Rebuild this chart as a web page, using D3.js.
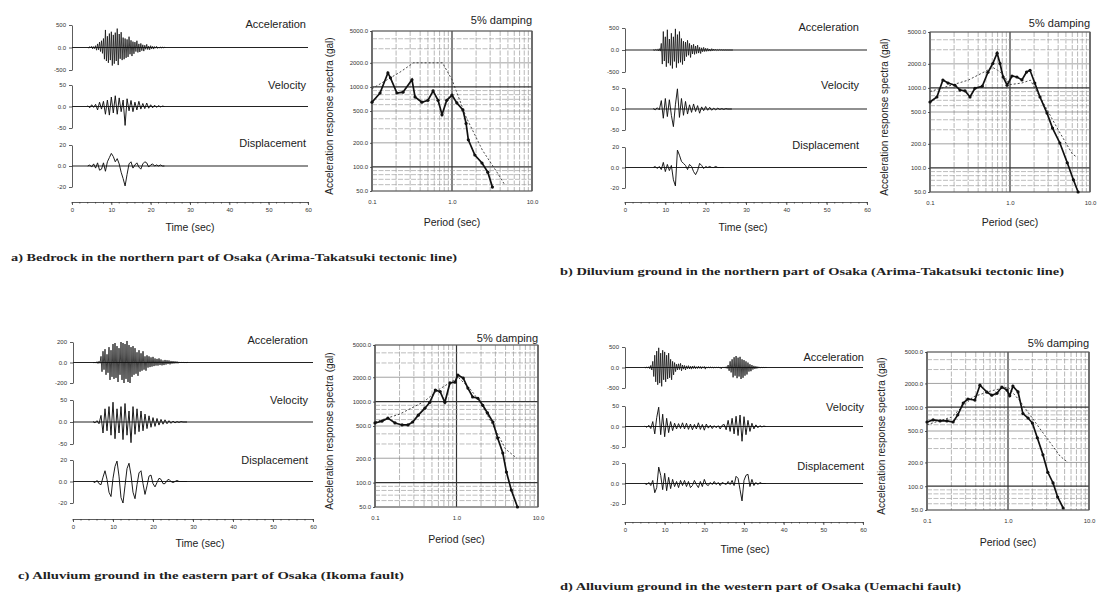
<!DOCTYPE html>
<html>
<head>
<meta charset="utf-8">
<title>Simulated ground motions in Osaka</title>
<script src="https://cdn.jsdelivr.net/npm/d3@7"></script>
<style>
  body {margin: 0; background: #fff;}
  svg {font-family: "Liberation Sans", Arial, sans-serif;}
  .ax path, .ax line {stroke: #333; stroke-width: 0.8;}
  .ax text {fill: #333;}
  .cap {font-family: "Liberation Serif", "Times New Roman", serif; font-weight: bold; fill: #222;}
</style>
</head>
<body>
<svg id="fig" width="1099" height="603"></svg>
<script>
// ---------- data ----------
var timeTicks = [0, 10, 20, 30, 40, 50, 60];
var periodTicks = [0.1, 1.0, 10.0];
var spectraTicks = [50, 100, 200, 500, 1000, 2000, 5000];
var traceNames = ["Acceleration", "Velocity", "Displacement"];

// top tick of the acc / vel / disp axes, per panel
var accTicks = [500, 500, 200, 500];
var velTicks = [50, 50, 50, 50];
var dispTicks = [20, 20, 20, 20];

// time of first sample (sec) per panel; acc sampled every 0.25 s, vel/disp every 0.5 s
var traceStart = [4, 7, 5, 5];
var accDt = 0.25, velDt = 0.5, dispDt = 0.5;

var captions = [
  "a)   Bedrock in the northern part of Osaka (Arima-Takatsuki tectonic line)",
  "b)   Diluvium ground in the northern part of Osaka (Arima-Takatsuki tectonic line)",
  "c)   Alluvium ground in the eastern part of Osaka (Ikoma fault)",
  "d)   Alluvium ground in the western part of Osaka (Uemachi fault)"
];

// a) bedrock
var accA = [10,-15,20,-10,25,-30,20,-25, 40,-60,80,-50,120,-90,150,-130,
  200,-260,390,-300,250,-340,310,-280, 350,-400,280,-360,330,-300,420,-390,
  300,-250,340,-280,220,-260,200,-230, 180,-210,240,-150,160,-190,130,-140,
  120,-90,150,-110,80,-100,90,-70, 60,-80,50,-40,70,-45,30,-50,
  40,-30,25,-35,20,-15,25,-20, 10,-15,12,-8,6,-5,3,0];
var velA = [2,-3,4,-2, 5,-8,10,-6, 12,-18,15,-20, 22,-15,25,-18, 20,-12,15,-44,
  18,-10,14,-12, 10,-8,12,-6, 7,-5,8,-4, 4,-3,3,-2, 2,-1,1,0];
var dispA = [0,1,-1,2, -2,3,-4,-3, 3,-5,4,8, 12,9,4,7, 2,-6,-12,-19,
  -8,2,4,-2, 1,3,-1,-3, 2,4,3,-1, 1,2,0,1, 0,1,0,0];

// b) diluvium, north
var accB = [5,-8,10,-6,15,-20,30,-25, 150,-320,420,-250,300,-380,460,-300,
  250,-350,380,-420,300,-260,480,-400, 350,-300,420,-280,260,-330,200,-250,
  180,-150,220,-120,150,-170,110,-90, 130,-100,90,-80,110,-70,60,-80,
  50,-40,60,-35,40,-30,35,-25, 20,-25,30,-15,20,-10,15,-12,
  10,-8,12,-5,8,-6,5,-4, 4,-3,2,-2,1,-1,0,0];
var velB = [1,-2,3,-2, 20,-22,25,-18, 22,-15,-42,10, 48,-20,25,-15, 18,-12,10,-8,
  12,-6,8,-10, 5,-4,6,-3, 4,-3,2,-2, 2,-1,1,-1, 1,0,0,0];
var dispB = [0,1,-1,1, -2,5,-4,3, -3,2,-12,-18, 17,12,6,4, 2,-2,3,1,
  -4,-7,-3,4, 2,-1,1,0, 1,0,0,1, 0,0,0,0];

// c) alluvium, east
var accC = [3,-5,4,-6,8,-10,12,-8, 60,-90,110,-70,130,-120,80,-100,
  150,-170,120,-140,180,-160,190,-150, 160,-190,140,-120,200,-170,190,-200,
  180,-160,210,-190,170,-200,150,-140, 160,-120,140,-110,100,-130,120,-90,
  90,-80,110,-70,60,-80,70,-50, 60,-45,50,-40,55,-35,40,-30,
  35,-30,40,-25,30,-28,20,-25, 25,-20,22,-15,20,-18,15,-12,
  14,-10,12,-8,10,-8,6,-5, 5,-4,4,-3,2,-2,1,0];
var velC = [1,-2,3,-4, 15,-25,30,-20, 35,-30,45,-38, 30,-25,35,-40, 42,-30,25,-47,
  35,-28,30,-22, 25,-20,18,-15, 14,-12,10,-10, 8,-7,6,-5, 5,-4,3,-3,
  2,-2,1,-1, 1,0,0,0];
var dispC = [0,-1,1,-2, -3,4,10,2, -10,-14,3,14, 19,5,-15,-20, -4,12,17,6,
  -10,-16,-3,8, 10,-2,-12,-4, 5,6,-2,-5, -1,3,2,-2, -2,1,2,0,
  -1,0,1,0, 0,0,0,0];

// d) alluvium, west
var accD = [5,-8,10,-12,20,-30,50,-60, 150,-220,300,-350,400,-420,480,-380,
  350,-460,420,-300,380,-350,300,-280, 350,-250,200,-300,150,-180,120,-100,
  80,-60,90,-50,100,-80,60,-40, 50,-60,40,-30,45,-35,30,-40,
  35,-25,40,-30,20,-25,30,-20, 25,-30,20,-15,25,-40,15,-10,
  10,-8,12,-6,8,-10,5,-5, 6,-4,8,-5,4,-30,5,-3,
  10,-15,20,-25,60,-80,150,-120, 200,-240,250,-200,280,-260,240,-220,
  260,-280,200,-250,180,-200,150,-170, 120,-100,80,-90,60,-50,40,-35,
  30,-25,20,-15,12,-10,6,-5, 4,-3,2,0];
var velD = [1,-2,3,-5, 12,-18,22,47, -20,30,-25,20, -15,12,-10,8, -6,7,-5,9,
  -6,8,-7,6, -8,5,-6,9, -7,5,-9,6, -4,3,-5,2, -3,2,-6,3,
  5,-8,15,-12, 20,-18,25,-22, 28,-36,24,-20, 15,-12,8,-6, 4,-3,2,-1, 1,0];
var dispD = [0,-1,1,-2, 3,-9,-4,16, 8,-6,10,-7, 6,-5,4,-3, 2,-4,3,-2,
  3,-3,2,-4, -2,3,-1,-4, 2,-3,4,-1, -2,1,-1,2, -1,1,-2,1,
  0,-1,2,-1, 3,-2,7,5, -6,-17,3,8, 9,-3,4,-2, 1,-1,1,0, 0,0];

// acceleration response spectra [period (sec), Sa (gal)]
var specA = [[0.1,644],[0.126,840],[0.158,1494],[0.17,1300],[0.205,840],[0.244,860],
  [0.316,1230],[0.345,750],[0.42,644],[0.5,680],[0.58,890],[0.67,680],[0.75,450],
  [0.86,680],[1.0,790],[1.15,630],[1.37,515],[1.5,350],[1.6,218],[1.93,141],
  [2.37,112],[2.8,86],[3.2,56]];
var designA = [[0.1,950],[0.224,1530],[0.33,2000],[0.76,2000],[1.0,1230],[1.5,420],
  [2.4,162],[3.7,84],[4.6,59]];

var specB = [[0.1,667],[0.122,770],[0.145,1256],[0.168,1150],[0.205,1080],[0.237,940],
  [0.274,920],[0.316,770],[0.365,990],[0.45,1050],[0.53,1570],[0.61,2020],[0.69,2720],
  [0.75,2020],[0.82,1370],[0.92,1080],[1.06,1410],[1.22,1370],[1.41,1260],[1.61,1580],
  [1.78,1660],[2.04,1150],[2.37,770],[2.9,485],[3.4,315],[4.2,205],[5.2,116],
  [6.2,71],[7.1,50]];
var designB = [[0.1,900],[0.3,1250],[0.61,1800],[0.75,1600],[1.0,1100],[1.4,1150],
  [1.8,1250],[2.5,700],[4.0,300],[6.0,150],[6.8,137]];

var specC = [[0.1,545],[0.122,575],[0.144,625],[0.176,545],[0.215,515],[0.254,515],
  [0.29,560],[0.34,680],[0.41,830],[0.47,980],[0.55,1390],[0.63,1330],[0.72,980],
  [0.83,1700],[0.96,1740],[1.04,2130],[1.21,1950],[1.38,1470],[1.58,1140],[1.83,1100],
  [2.1,900],[2.4,725],[2.8,560],[3.2,355],[3.7,232],[4.1,135],[4.7,81],[5.6,50]];
var designC = [[0.1,560],[0.2,700],[0.4,1000],[0.6,1400],[0.9,1800],[1.05,2000],
  [1.5,1400],[2.0,950],[3.0,450],[4.0,260],[5.5,200]];

var specD = [[0.1,650],[0.119,690],[0.145,670],[0.176,670],[0.21,650],[0.24,800],
  [0.28,1130],[0.32,1270],[0.39,1230],[0.45,1900],[0.55,1550],[0.63,1420],[0.73,1500],
  [0.84,1800],[0.97,1650],[1.05,1400],[1.15,1850],[1.33,1560],[1.53,830],[1.77,730],
  [2.0,630],[2.3,410],[2.7,250],[3.1,150],[3.6,110],[4.1,73],[4.8,53]];
var designD = [[0.1,600],[0.2,750],[0.37,1350],[0.6,1600],[1.0,1800],[1.4,1200],
  [2.4,560],[4.4,240],[5.5,200]];

// ---------- layout ----------
var layout = [
  {th: {x0: 72, x1: 308, axisY: 202, labelX: 306, timeX: 190, timeY: 231,
        rows: [{zero: 47, top: 25, bot: 70, ly: 28}, {zero: 107, top: 85, bot: 128, ly: 89}, {zero: 165, top: 145, bot: 187, ly: 147}]},
   sp: {x0: 372, x1: 532, y0: 31, y1: 191, yLabelX: 333, dampY: 24, periodY: 226},
   cap: {x: 11, w: 446, y: 261}},
  {th: {x0: 625, x1: 867, axisY: 202, labelX: 859, timeX: 743, timeY: 231,
        rows: [{zero: 50, top: 28, bot: 72, ly: 31}, {zero: 108, top: 88, bot: 130, ly: 89}, {zero: 167, top: 147, bot: 188, ly: 149}]},
   sp: {x0: 930, x1: 1090, y0: 32, y1: 192, yLabelX: 888, dampY: 27, periodY: 226},
   cap: {x: 560, w: 504, y: 275}},
  {th: {x0: 73, x1: 313, axisY: 519, labelX: 308, timeX: 200, timeY: 547,
        rows: [{zero: 362, top: 342, bot: 383, ly: 344}, {zero: 423, top: 400, bot: 444, ly: 404}, {zero: 482, top: 460, bot: 503, ly: 464}]},
   sp: {x0: 375, x1: 538, y0: 345, y1: 507, yLabelX: 333, dampY: 342, periodY: 543},
   cap: {x: 18, w: 386, y: 579}},
  {th: {x0: 625, x1: 863, axisY: 522, labelX: 864, timeX: 745, timeY: 553,
        rows: [{zero: 368, top: 347, bot: 388, ly: 361}, {zero: 427, top: 406, bot: 447, ly: 411}, {zero: 485, top: 463, bot: 504, ly: 470}]},
   sp: {x0: 927, x1: 1089, y0: 352, y1: 510, yLabelX: 885, dampY: 347, periodY: 546},
   cap: {x: 560, w: 401, y: 590}}
];

var panelData = [
  {traces: [accA, velA, dispA], ticks: [accTicks[0], velTicks[0], dispTicks[0]], spec: specA, design: designA},
  {traces: [accB, velB, dispB], ticks: [accTicks[1], velTicks[1], dispTicks[1]], spec: specB, design: designB},
  {traces: [accC, velC, dispC], ticks: [accTicks[2], velTicks[2], dispTicks[2]], spec: specC, design: designC},
  {traces: [accD, velD, dispD], ticks: [accTicks[3], velTicks[3], dispTicks[3]], spec: specD, design: designD}
];
var traceDt = [accDt, velDt, dispDt];

var svg = d3.select("#fig");

function isDecade(v) {
  var l = Math.log10(v);
  return Math.abs(l - Math.round(l)) < 1e-6;
}

function drawPanel(p, d, i) {
  var g = svg.append("g");

  // ----- time histories -----
  var x = d3.scaleLinear().domain([0, 60]).range([p.th.x0, p.th.x1]);

  p.th.rows.forEach(function(row, r) {
    var tk = d.ticks[r];
    var y = d3.scaleLinear().domain([-tk, tk]).range([row.bot, row.top]);

    g.append("g").attr("class", "ax")
      .attr("transform", "translate(" + p.th.x0 + ",0)")
      .call(d3.axisLeft(y).tickValues([-tk, 0, tk]).tickSize(3).tickSizeOuter(0).tickPadding(3)
        .tickFormat(function(v) { return v === 0 ? "0.0" : v; }))
      .selectAll("text").style("font-size", "6px");

    // zero line across the whole record
    g.append("line")
      .attr("x1", x(0)).attr("x2", x(60))
      .attr("y1", y(0)).attr("y2", y(0))
      .attr("stroke", "#222").attr("stroke-width", 1.1);

    var start = traceStart[i], dt = traceDt[r];
    var line = d3.line()
      .x(function(v, k) { return x(start + k * dt); })
      .y(function(v) { return y(v); });

    g.append("path")
      .datum(d.traces[r])
      .attr("d", line)
      .attr("fill", "none")
      .attr("stroke", "#111")
      .attr("stroke-width", r === 0 ? 0.8 : 0.95);

    g.append("text")
      .attr("x", p.th.labelX).attr("y", row.ly)
      .attr("text-anchor", "end")
      .style("font-size", "11px").style("fill", "#222")
      .text(traceNames[r]);
  });

  var tax = g.append("g").attr("class", "ax")
    .attr("transform", "translate(0," + p.th.axisY + ")")
    .call(d3.axisBottom(x).tickValues(timeTicks).tickSize(3).tickSizeOuter(0).tickPadding(3));
  tax.selectAll("text").style("font-size", "6px");
  // minor ticks
  tax.selectAll(".minor").data(x.ticks(30)).enter().append("line")
    .attr("x1", function(v) { return x(v); }).attr("x2", function(v) { return x(v); })
    .attr("y1", 0).attr("y2", 1.5).attr("stroke", "#555").attr("stroke-width", 0.6);

  g.append("text")
    .attr("x", p.th.timeX).attr("y", p.th.timeY)
    .attr("text-anchor", "middle")
    .style("font-size", "10.5px").style("fill", "#222")
    .text("Time (sec)");

  // ----- response spectrum -----
  var xs = d3.scaleLog().domain([0.1, 10]).range([p.sp.x0, p.sp.x1]);
  var ys = d3.scaleLog().domain([50, 5000]).range([p.sp.y1, p.sp.y0]);

  g.selectAll(".vgrid").data(xs.ticks()).enter().append("line")
    .attr("x1", function(v) { return xs(v); }).attr("x2", function(v) { return xs(v); })
    .attr("y1", p.sp.y0).attr("y2", p.sp.y1)
    .attr("stroke", function(v) { return isDecade(v) ? "#333" : "#8f8f8f"; })
    .attr("stroke-width", function(v) { return isDecade(v) ? 1.2 : 0.65; })
    .attr("stroke-dasharray", function(v) { return isDecade(v) ? null : "5,1.5"; });

  g.selectAll(".hgrid").data(ys.ticks()).enter().append("line")
    .attr("x1", p.sp.x0).attr("x2", p.sp.x1)
    .attr("y1", function(v) { return ys(v); }).attr("y2", function(v) { return ys(v); })
    .attr("stroke", function(v) {
      if (isDecade(v)) return "#333";
      return spectraTicks.indexOf(v) >= 0 ? "#6f6f6f" : "#999";
    })
    .attr("stroke-width", function(v) { return isDecade(v) ? 1.2 : 0.65; })
    .attr("stroke-dasharray", function(v) { return isDecade(v) || spectraTicks.indexOf(v) >= 0 ? null : "5,1.5"; });

  g.append("rect")
    .attr("x", p.sp.x0).attr("y", p.sp.y0)
    .attr("width", p.sp.x1 - p.sp.x0).attr("height", p.sp.y1 - p.sp.y0)
    .attr("fill", "none").attr("stroke", "#555").attr("stroke-width", 0.9);

  var yax = g.append("g").attr("class", "ax")
    .attr("transform", "translate(" + p.sp.x0 + ",0)")
    .call(d3.axisLeft(ys).tickValues(spectraTicks).tickSize(2).tickPadding(2).tickFormat(d3.format(".1f")));
  yax.select(".domain").remove();
  yax.selectAll("text").style("font-size", "6px");

  var xax = g.append("g").attr("class", "ax")
    .attr("transform", "translate(0," + p.sp.y1 + ")")
    .call(d3.axisBottom(xs).tickValues(periodTicks).tickSize(0).tickPadding(9).tickFormat(d3.format(".1f")));
  xax.select(".domain").remove();
  xax.selectAll("text").style("font-size", "6px");

  var sline = d3.line()
    .x(function(v) { return xs(v[0]); })
    .y(function(v) { return ys(v[1]); });

  g.append("path").datum(d.design)
    .attr("d", sline).attr("fill", "none")
    .attr("stroke", "#333").attr("stroke-width", 0.9).attr("stroke-dasharray", "2,2");

  g.append("path").datum(d.spec)
    .attr("d", sline).attr("fill", "none")
    .attr("stroke", "#111").attr("stroke-width", 1.7);

  g.selectAll(".dot").data(d.spec).enter().append("circle")
    .attr("cx", function(v) { return xs(v[0]); })
    .attr("cy", function(v) { return ys(v[1]); })
    .attr("r", 1.6).attr("fill", "#111");

  g.append("text")
    .attr("x", p.sp.x1).attr("y", p.sp.dampY)
    .attr("text-anchor", "end")
    .style("font-size", "11px").style("fill", "#222")
    .text("5% damping");

  g.append("text")
    .attr("x", (p.sp.x0 + p.sp.x1) / 2).attr("y", p.sp.periodY)
    .attr("text-anchor", "middle")
    .style("font-size", "10.5px").style("fill", "#222")
    .text("Period (sec)");

  g.append("text")
    .attr("transform", "translate(" + p.sp.yLabelX + "," + ((p.sp.y0 + p.sp.y1) / 2 + 5) + ") rotate(-90)")
    .attr("text-anchor", "middle")
    .style("font-size", "10px").style("fill", "#222")
    .text("Acceleration response spectra (gal)");

  // caption
  g.append("text")
    .attr("class", "cap")
    .attr("x", p.cap.x).attr("y", p.cap.y)
    .attr("textLength", p.cap.w).attr("lengthAdjust", "spacingAndGlyphs")
    .style("font-size", "10px")
    .text(captions[i]);
}

layout.forEach(function(p, i) { drawPanel(p, panelData[i], i); });
</script>
</body>
</html>
